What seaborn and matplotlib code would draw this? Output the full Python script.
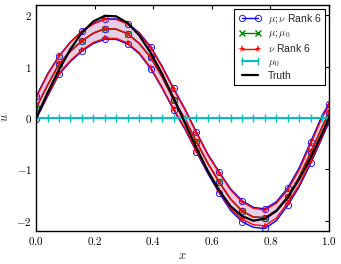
import numpy as np
import pandas as pd
import matplotlib
matplotlib.use('Agg')
import matplotlib.pyplot as plt
from matplotlib.lines import Line2D
from matplotlib.ticker import FuncFormatter
import seaborn as sns

# grid (every 5th point of a 129-point grid on [0, 1])
x = [0.0, 0.039, 0.078, 0.117, 0.156, 0.195, 0.234, 0.273, 0.3125, 0.352,
     0.391, 0.430, 0.469, 0.508, 0.547, 0.586, 0.625, 0.664, 0.703, 0.742,
     0.781, 0.820, 0.859, 0.898, 0.9375, 0.977, 1.0]

truth = [0.00, 0.49, 0.94, 1.34, 1.66, 1.88, 1.99, 1.98, 1.85, 1.61,
         1.27, 0.86, 0.39, -0.10, -0.58, -1.03, -1.41, -1.72, -1.91, -2.00,
         -1.96, -1.81, -1.55, -1.19, -0.77, -0.29, 0.00]

est_mean = [0.20, 0.64, 1.05, 1.30, 1.50, 1.65, 1.74, 1.73, 1.64, 1.45,
            1.18, 0.80, 0.36, -0.02, -0.46, -0.88, -1.25, -1.58, -1.81, -1.93,
            -1.94, -1.80, -1.53, -1.15, -0.67, -0.17, 0.10]

nu_hi = [0.40, 0.84, 1.20, 1.47, 1.68, 1.83, 1.92, 1.92, 1.83, 1.64,
         1.37, 0.99, 0.56, 0.16, -0.29, -0.72, -1.07, -1.40, -1.63, -1.76,
         -1.79, -1.66, -1.40, -1.01, -0.50, 0.02, 0.25]
nu_lo = [0.00, 0.44, 0.87, 1.12, 1.32, 1.47, 1.55, 1.55, 1.46, 1.27,
         0.98, 0.60, 0.18, -0.20, -0.64, -1.05, -1.43, -1.76, -1.97, -2.08,
         -2.10, -1.95, -1.65, -1.30, -0.84, -0.35, -0.05]

munu_hi = [0.42, 0.86, 1.21, 1.48, 1.69, 1.84, 1.93, 1.93, 1.84, 1.66,
           1.39, 1.01, 0.58, 0.18, -0.27, -0.70, -1.05, -1.38, -1.61, -1.74,
           -1.77, -1.63, -1.36, -0.97, -0.46, 0.06, 0.28]
munu_lo = [-0.02, 0.42, 0.85, 1.10, 1.30, 1.45, 1.53, 1.53, 1.44, 1.25,
           0.96, 0.58, 0.16, -0.22, -0.66, -1.08, -1.46, -1.80, -2.02, -2.13,
           -2.15, -2.00, -1.70, -1.34, -0.88, -0.38, -0.08]

mu0 = [0.0] * len(x)

labels = [r'$\mu; \nu$ Rank 6', r'$\mu; \mu_0$', r'$\nu$ Rank 6', r'$\mu_0$', 'Truth']

sns.set_style('white')
plt.rcParams['font.family'] = ['Liberation Sans', 'DejaVu Sans']
plt.rcParams['mathtext.fontset'] = 'cm'

fig = plt.figure(figsize=(3.41, 2.64), dpi=100)
ax = fig.add_axes([0.106, 0.125, 0.859, 0.856])

df = pd.DataFrame({'x': x, 'truth': truth, 'mean': est_mean, 'mu0': mu0,
                   'nu_hi': nu_hi, 'nu_lo': nu_lo,
                   'munu_hi': munu_hi, 'munu_lo': munu_lo})

blue_kw = dict(color='blue', lw=1, marker='o', markersize=4.5, markerfacecolor='none',
               markeredgecolor='blue', markeredgewidth=0.6)
green_kw = dict(color='green', lw=1, marker='x', markersize=4.5, markeredgewidth=1)
red_kw = dict(color='red', lw=1, marker='*', markersize=5.5, markeredgewidth=0)
cyan_kw = dict(color='c', lw=1.5, marker='|', markersize=6, markeredgewidth=1)
black_kw = dict(color='black', lw=1.6)

# mu; nu rank 6 (blue, open circles)
ax.fill_between(df['x'], df['munu_lo'], df['munu_hi'], color='blue', alpha=0.1, lw=0)
for col in ['munu_hi', 'munu_lo', 'mean']:
    ax.plot(df['x'], df[col], markevery=2, **blue_kw)

# mu; mu0 (green, x)
ax.plot(df['x'], df['mean'], markevery=2, **green_kw)

# nu rank 6 (red, stars)
ax.fill_between(df['x'], df['nu_lo'], df['nu_hi'], color='red', alpha=0.1, lw=0)
for col in ['nu_hi', 'nu_lo', 'mean']:
    ax.plot(df['x'], df[col], markevery=2, **red_kw)

# mu0 (cyan)
ax.plot(df['x'], df['mu0'], **cyan_kw)

# truth
sns.lineplot(data=df, x='x', y='truth', ax=ax, sort=False, legend=False, **black_kw)

ax.set_xlim(0, 1)
ax.set_ylim(-2.2, 2.2)
ax.set_xticks([0, 0.2, 0.4, 0.6, 0.8, 1.0])
ax.set_yticks([-2, -1, 0, 1, 2])
ax.xaxis.set_major_formatter(FuncFormatter(lambda v, p: f'${v:.1f}$'))
ax.yaxis.set_major_formatter(FuncFormatter(lambda v, p: f'${v:.0f}$'))
ax.tick_params(direction='in', top=True, right=True, length=3, width=0.8,
               labelsize=8, colors='black', pad=3)
for s in ax.spines.values():
    s.set_color('black')
    s.set_linewidth(1)
ax.set_xlabel(r'$x$', fontsize=9, labelpad=2)
ax.set_ylabel(r'$u$', fontsize=9, labelpad=4)

handles = [Line2D([], [], **blue_kw), Line2D([], [], **green_kw),
           Line2D([], [], **red_kw), Line2D([], [], **cyan_kw),
           Line2D([], [], **black_kw)]
leg = ax.legend(handles, labels, loc='upper right', fontsize=7.5, numpoints=2,
                fancybox=False, framealpha=1, edgecolor='black', borderaxespad=0.35,
                handlelength=2.2, labelspacing=0.2, borderpad=0.4, handletextpad=0.6)
leg.get_frame().set_linewidth(0.8)

fig.savefig('out.png', dpi=100)
